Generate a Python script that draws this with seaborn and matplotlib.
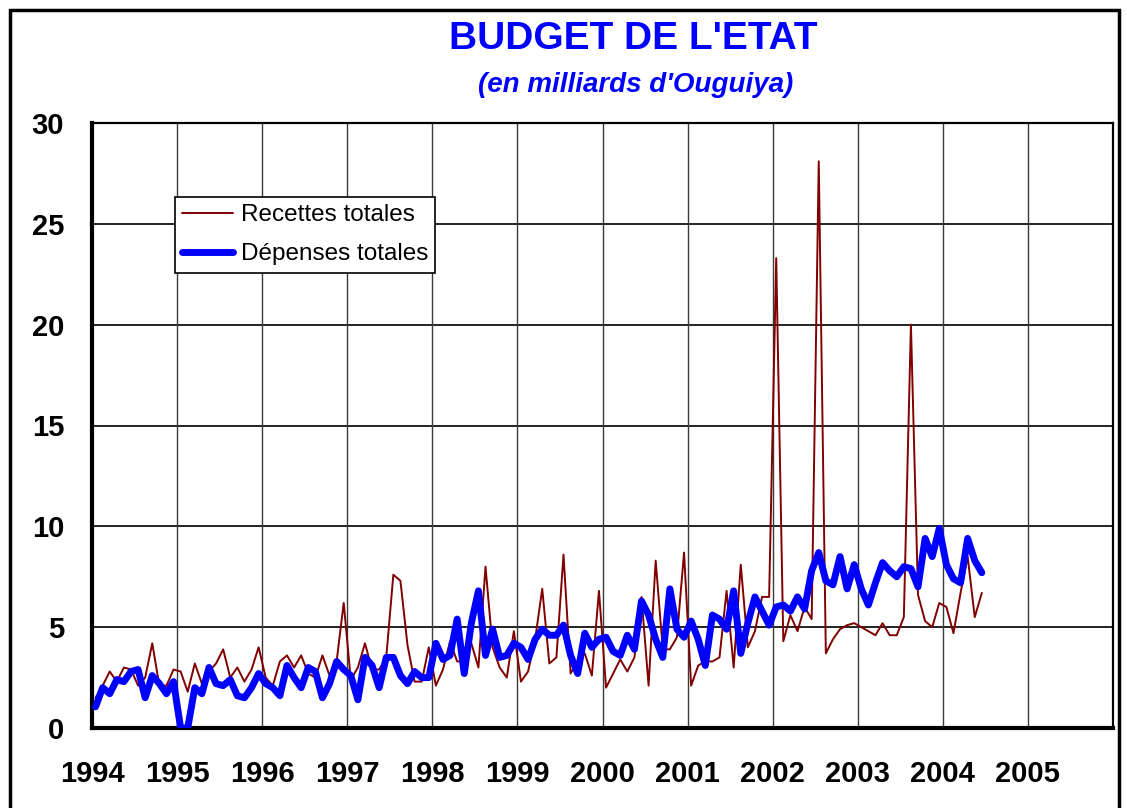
import numpy as np
import pandas as pd
import matplotlib
matplotlib.use("Agg")
import matplotlib.pyplot as plt
import seaborn as sns
from matplotlib.patches import Rectangle

# Monthly state budget, Jan 1994 - Jun 2004 (billions of ouguiya)
recettes = [
    # 1994
    1.5, 2.1, 2.8, 2.3, 3.0, 2.9, 2.1, 2.5, 4.2, 2.1, 2.1, 2.9,
    # 1995
    2.8, 1.8, 3.2, 2.2, 2.8, 3.2, 3.9, 2.5, 3.0, 2.3, 2.9, 4.0,
    # 1996
    2.5, 2.1, 3.3, 3.6, 3.0, 3.6, 2.7, 2.5, 3.6, 2.6, 3.3, 6.2,
    # 1997
    2.4, 3.0, 4.2, 2.9, 2.9, 3.5, 7.6, 7.3, 4.1, 2.3, 2.3, 4.0,
    # 1998
    2.1, 2.9, 4.3, 3.3, 3.3, 4.2, 3.0, 8.0, 4.0, 3.0, 2.5, 4.8,
    # 1999
    2.3, 2.8, 4.4, 6.9, 3.2, 3.5, 8.6, 2.7, 3.3, 3.7, 2.6, 6.8,
    # 2000
    2.0, 2.7, 3.4, 2.8, 3.5, 6.5, 2.1, 8.3, 3.9, 3.9, 4.5, 8.7,
    # 2001
    2.1, 3.1, 3.3, 3.3, 3.5, 6.8, 3.0, 8.1, 4.0, 4.8, 6.5, 6.5,
    # 2002
    23.3, 4.3, 5.6, 4.8, 6.0, 5.4, 28.1, 3.7, 4.4, 4.9, 5.1, 5.2,
    # 2003
    5.0, 4.8, 4.6, 5.2, 4.6, 4.6, 5.5, 20.0, 6.6, 5.3, 5.0, 6.2,
    # 2004
    6.0, 4.7, 6.7, 8.5, 5.5, 6.7,
]

depenses = [
    # 1994
    1.05, 2.0, 1.7, 2.4, 2.3, 2.8, 2.9, 1.5, 2.6, 2.2, 1.7, 2.3,
    # 1995
    0.0, 0.0, 2.0, 1.7, 3.0, 2.2, 2.1, 2.4, 1.6, 1.5, 2.0, 2.7,
    # 1996
    2.2, 2.0, 1.6, 3.1, 2.5, 2.0, 3.0, 2.8, 1.5, 2.2, 3.3, 2.9,
    # 1997
    2.6, 1.4, 3.5, 3.1, 2.0, 3.5, 3.5, 2.6, 2.2, 2.8, 2.5, 2.5,
    # 1998
    4.2, 3.4, 3.6, 5.4, 2.7, 5.2, 6.8, 3.6, 4.9, 3.5, 3.6, 4.2,
    # 1999
    4.0, 3.4, 4.4, 4.9, 4.6, 4.6, 5.1, 3.6, 2.7, 4.7, 4.0, 4.4,
    # 2000
    4.5, 3.8, 3.6, 4.6, 3.9, 6.3, 5.6, 4.4, 3.5, 6.9, 4.9, 4.5,
    # 2001
    5.3, 4.4, 3.1, 5.6, 5.4, 4.9, 6.8, 3.7, 5.2, 6.5, 5.8, 5.1,
    # 2002
    6.0, 6.1, 5.8, 6.5, 5.9, 7.8, 8.7, 7.3, 7.1, 8.5, 6.9, 8.1,
    # 2003
    6.9, 6.1, 7.2, 8.2, 7.8, 7.5, 8.0, 7.9, 7.0, 9.4, 8.5, 9.9,
    # 2004
    8.1, 7.4, 7.2, 9.4, 8.3, 7.7,
]

year_ticks = list(range(1994, 2006))
y_ticks = [0, 5, 10, 15, 20, 25, 30]
label_recettes = "Recettes totales"
label_depenses = "Dépenses totales"

n = len(recettes)
df = pd.DataFrame({
    "t": 1994 + (np.arange(n) + 0.5) / 12.0,
    "recettes": recettes,
    "depenses": depenses,
})

sns.set_style("white")
plt.rcParams["font.family"] = ["Liberation Sans", "DejaVu Sans"]
plt.rcParams["text.color"] = "black"

fig = plt.figure(figsize=(11.27, 8.08), dpi=100)
ax = fig.add_axes([92 / 1127, 1 - 728 / 808, (1113 - 92) / 1127, (728 - 123) / 808])

# grid
for yv in y_ticks[1:-1]:
    ax.axhline(yv, color="#111111", lw=1.3, zorder=1)
for xv in year_ticks[1:]:
    ax.axvline(xv, color="#3a3a3a", lw=1.0, zorder=1)

sns.lineplot(data=df, x="t", y="recettes", ax=ax, color="#800000", lw=1.4,
             label=label_recettes, zorder=3)
sns.lineplot(data=df, x="t", y="depenses", ax=ax, color="#0000FF", lw=5.0,
             label=label_depenses, zorder=4)

ax.set_xlim(1994, 2006)
ax.set_ylim(0, 30)
ax.set_xticks(year_ticks)
ax.set_xticklabels([str(y) for y in year_ticks])
ax.set_yticks(y_ticks)
ax.set_yticklabels([str(v) for v in y_ticks])
ax.set_xlabel("")
ax.set_ylabel("")

for lab in ax.get_xticklabels() + ax.get_yticklabels():
    lab.set_fontweight("bold")
    lab.set_fontsize(21)
    lab.set_color("black")

ax.tick_params(axis="y", direction="in", length=9, width=3, pad=20, color="black")
ax.tick_params(axis="x", direction="in", length=6, width=3, pad=23, color="black")

for side in ["left", "bottom"]:
    ax.spines[side].set_linewidth(3)
    ax.spines[side].set_color("black")
for side in ["top", "right"]:
    ax.spines[side].set_linewidth(1.6)
    ax.spines[side].set_color("black")
    ax.spines[side].set_visible(True)

leg = ax.legend(loc="upper left", bbox_to_anchor=((175 - 92) / 1021, (728 - 197) / 605),
                borderaxespad=0, frameon=True, fancybox=False, framealpha=1,
                edgecolor="black", fontsize=17.5, handlelength=2.1,
                handletextpad=0.3, labelspacing=0.7, borderpad=0.3)
leg.get_frame().set_linewidth(1.2)
for txt in leg.get_texts():
    txt.set_color("black")

fig.text(633 / 1127, 1 - 39 / 808, "BUDGET DE L'ETAT", color="#0000FF",
         fontsize=28, fontweight="bold", ha="center", va="center")
fig.text(636 / 1127, 1 - 85 / 808, "(en milliards d'Ouguiya)", color="#0000FF",
         fontsize=20, fontweight="bold", fontstyle="italic", ha="center", va="center")

# outer frame
fig.patches.append(Rectangle((10 / 1127, -0.05), 1109 / 1127, 1.05 - 10 / 808,
                             transform=fig.transFigure, fill=False,
                             edgecolor="black", lw=2.5, zorder=0))

fig.savefig("out.png", dpi=100)
